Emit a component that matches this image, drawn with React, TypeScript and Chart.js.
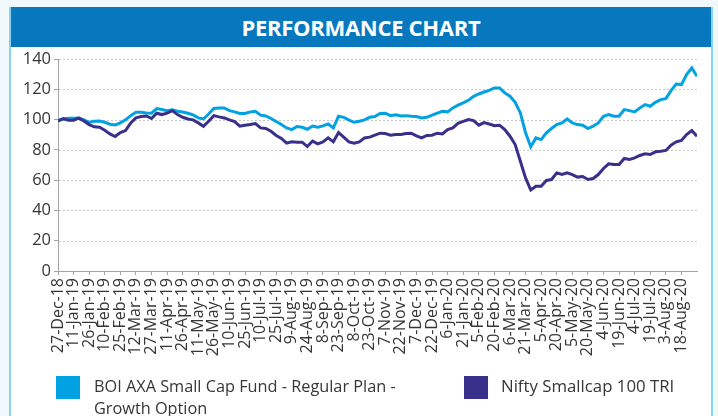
import React, { useEffect, useRef } from "react";
import { Chart, registerables } from "chart.js";

Chart.register(...registerables);

// X-axis tick labels (one every 15 days starting 27-Dec-18)
const tickLabels = [
  "27-Dec-18", "11-Jan-19", "26-Jan-19", "10-Feb-19", "25-Feb-19", "12-Mar-19",
  "27-Mar-19", "11-Apr-19", "26-Apr-19", "11-May-19", "26-May-19", "10-Jun-19",
  "25-Jun-19", "10-Jul-19", "25-Jul-19", "9-Aug-19", "24-Aug-19", "8-Sep-19",
  "23-Sep-19", "8-Oct-19", "23-Oct-19", "7-Nov-19", "22-Nov-19", "7-Dec-19",
  "22-Dec-19", "6-Jan-20", "21-Jan-20", "5-Feb-20", "20-Feb-20", "6-Mar-20",
  "21-Mar-20", "5-Apr-20", "20-Apr-20", "5-May-20", "20-May-20", "4-Jun-20",
  "19-Jun-20", "4-Jul-20", "19-Jul-20", "3-Aug-20", "18-Aug-20",
];
const tickStepDays = 15;
const sampleStepDays = 5; // values read every 5 days from 27-Dec-18
const lastDay = 615;

const seriesNames = [
  "BOI AXA Small Cap Fund - Regular Plan - Growth Option",
  "Nifty Smallcap 100 TRI",
];

const fundValues = [
  99.6, 100.4, 100.9, 100.9, 101.1, 99.8, 98.2, 98.9, 99.1, 98.2, 96.9, 96.5, 97.8,
  99.8, 102.6, 104.8, 104.8, 104.4, 104.2, 107.3, 106.6, 105.9, 106.4, 105.5, 105.0,
  104.2, 103.1, 101.1, 100.4, 103.7, 107.3, 107.7, 107.7, 105.9, 105.1, 104.0, 104.0,
  105.1, 105.5, 102.9, 102.4, 100.7, 98.7, 96.7, 94.5, 93.4, 95.4, 94.9, 93.6,
  95.7,
  94.9, 95.8, 97.1, 94.5, 102.2, 101.5, 99.6, 98.2, 98.9, 99.8, 101.5, 102.0,
  104.0, 104.2, 102.6, 103.1, 102.4, 102.6, 102.2, 102.0, 101.1, 101.5, 102.9, 104.2,
  105.5, 105.1, 107.7, 109.5, 111.0, 112.7, 115.4, 116.9, 118.2, 119.3, 120.9, 120.9,
  117.6, 115.4, 111.4, 104.4, 91.2, 82.0, 87.9, 86.8, 91.2, 94.1, 96.7, 97.8, 100.4,
  97.8, 96.7, 96.3, 94.1, 95.6, 97.8, 102.2, 103.3, 102.2, 102.2, 106.6, 105.9, 105.1,
  107.7, 109.9, 108.8, 111.4, 113.2, 113.8, 119.1, 123.5, 123.1, 129.7, 134.1, 128.6,
];

const benchmarkValues = [
  98.9, 100.7, 99.6, 99.6, 100.9, 99.1, 96.7, 95.2, 94.9, 93.0, 90.5, 88.8, 91.4,
  92.7, 97.8, 101.1, 102.0, 102.4, 100.7, 104.2, 103.3, 104.2, 105.9, 103.3, 101.5,
  100.4, 99.8, 97.8, 95.6, 98.9, 102.6, 101.8, 101.1, 99.8, 98.7, 95.6, 96.3,
  96.7, 97.4, 94.5, 94.1, 92.3, 89.5, 87.5, 84.4, 85.3, 85.1, 85.1, 82.2,
  85.8,
  84.0, 85.3, 87.9, 85.3, 91.4, 88.4, 85.3, 84.4, 85.3, 87.9, 88.4, 89.7,
  91.0, 90.8, 89.7, 90.1, 90.1, 90.8, 91.0, 89.2, 87.9, 89.5, 89.7, 91.0,
  90.5, 93.4, 94.5, 97.5, 98.8, 100.0, 99.3, 96.3, 98.0, 97.1, 96.0, 96.3,
  93.4, 89.0, 83.5, 72.5, 61.5, 53.5, 56.0, 56.0, 59.8, 60.4, 64.8, 63.7, 64.8,
  63.7, 62.0, 62.4, 60.4, 61.1, 63.7, 67.7, 70.8, 70.3, 70.3, 74.3, 73.6, 74.7,
  76.3, 77.4, 76.9, 78.7, 79.1, 79.6, 83.1, 85.3, 86.2, 90.1, 92.7, 89.0,
];

const yMin = 0;
const yMax = 140;
const yStep = 20;

const fundColor = "#00a2e2";
const benchColor = "#38308a";
const axisColor = "#a3a3a3";
const textColor = "#363636";

const toPoints = (vals: number[]) =>
  vals.map((v, i) => ({ x: i * sampleStepDays, y: v }));

const dottedGrid = {
  id: "dottedGrid",
  beforeDatasetsDraw(chart: any) {
    const { ctx, chartArea, scales } = chart;
    const y = scales.y;
    ctx.save();
    ctx.strokeStyle = "#c9c9c9";
    ctx.lineWidth = 1;
    ctx.setLineDash([2, 2]);
    y.ticks.forEach((t: any) => {
      if (t.value === yMin) return;
      const py = Math.round(y.getPixelForValue(t.value)) + 0.5;
      ctx.beginPath();
      ctx.moveTo(chartArea.left + 1, py);
      ctx.lineTo(chartArea.right, py);
      ctx.stroke();
    });
    ctx.restore();
  },
};

export default function App() {
  const canvasRef = useRef<HTMLCanvasElement | null>(null);

  useEffect(() => {
    if (!canvasRef.current) return;
    Chart.defaults.font.family = "'Open Sans', sans-serif";
    const chart = new Chart(canvasRef.current, {
      type: "line",
      data: {
        datasets: [
          {
            label: seriesNames[1],
            data: toPoints(benchmarkValues),
            borderColor: benchColor,
            borderWidth: 3,
            pointRadius: 0,
            tension: 0,
            fill: false,
          },
          {
            label: seriesNames[0],
            data: toPoints(fundValues),
            borderColor: fundColor,
            borderWidth: 3,
            pointRadius: 0,
            tension: 0,
            fill: false,
          },
        ],
      },
      options: {
        animation: false,
        responsive: false,
        devicePixelRatio: 1,
        layout: { padding: { left: 0, top: 59, right: 21, bottom: 0 } },
        plugins: { legend: { display: false }, tooltip: { enabled: false } },
        scales: {
          x: {
            type: "linear",
            min: 0,
            max: lastDay,
            afterBuildTicks: (scale: any) => {
              scale.ticks = tickLabels.map((_, i) => ({ value: i * tickStepDays }));
            },
            afterFit: (scale: any) => {
              scale.height = 145;
            },
            ticks: {
              autoSkip: false,
              minRotation: 90,
              maxRotation: 90,
              padding: 3,
              color: textColor,
              font: { size: 16 },
              callback: (v: any) => tickLabels[Math.round(Number(v) / tickStepDays)] ?? "",
            },
            grid: { drawOnChartArea: false, drawTicks: true, tickLength: 4, color: axisColor },
            border: { color: axisColor, width: 1 },
          },
          y: {
            min: yMin,
            max: yMax,
            afterFit: (scale: any) => {
              scale.width = 58;
            },
            ticks: { stepSize: yStep, padding: 3, color: textColor, font: { size: 16.5 } },
            grid: { drawOnChartArea: false, drawTicks: true, tickLength: 4, color: axisColor },
            border: { color: axisColor, width: 1 },
          },
        },
      },
      plugins: [dottedGrid],
    });
    return () => chart.destroy();
  }, []);

  const font = "'Open Sans', sans-serif";

  return (
    <div
      style={{
        position: "absolute",
        left: 0,
        top: 0,
        width: 718,
        height: 416,
        overflow: "hidden",
        background: "#f0f8fc",
        fontFamily: font,
      }}
    >
      <div
        style={{
          position: "absolute",
          left: 9,
          top: 7,
          width: 700,
          height: 430,
          background: "#ffffff",
          borderLeft: "2px solid #86d5ea",
          borderRight: "2px solid #86d5ea",
        }}
      />
      <div
        style={{
          position: "absolute",
          left: 11,
          top: 7,
          width: 700,
          height: 40,
          background: "#0778be",
          color: "#ffffff",
          fontWeight: 700,
          fontSize: 22,
          lineHeight: "40px",
          textAlign: "center",
          letterSpacing: -0.3,
        }}
      >
        PERFORMANCE CHART
      </div>
      <canvas
        ref={canvasRef}
        width={718}
        height={416}
        style={{ position: "absolute", left: 0, top: 0, width: 718, height: 416 }}
      />
      <div style={{ position: "absolute", left: 56, top: 376, width: 24, height: 23, background: fundColor }} />
      <div
        style={{
          position: "absolute",
          left: 94,
          top: 375,
          fontSize: 16.3,
          lineHeight: "22px",
          color: textColor,
          whiteSpace: "nowrap",
        }}
      >
        BOI AXA Small Cap Fund - Regular Plan -
        <br />
        Growth Option
      </div>
      <div style={{ position: "absolute", left: 464, top: 376, width: 24, height: 23, background: benchColor }} />
      <div
        style={{
          position: "absolute",
          left: 501,
          top: 375,
          fontSize: 16.8,
          lineHeight: "22px",
          color: textColor,
          whiteSpace: "nowrap",
        }}
      >
        {seriesNames[1]}
      </div>
    </div>
  );
}
